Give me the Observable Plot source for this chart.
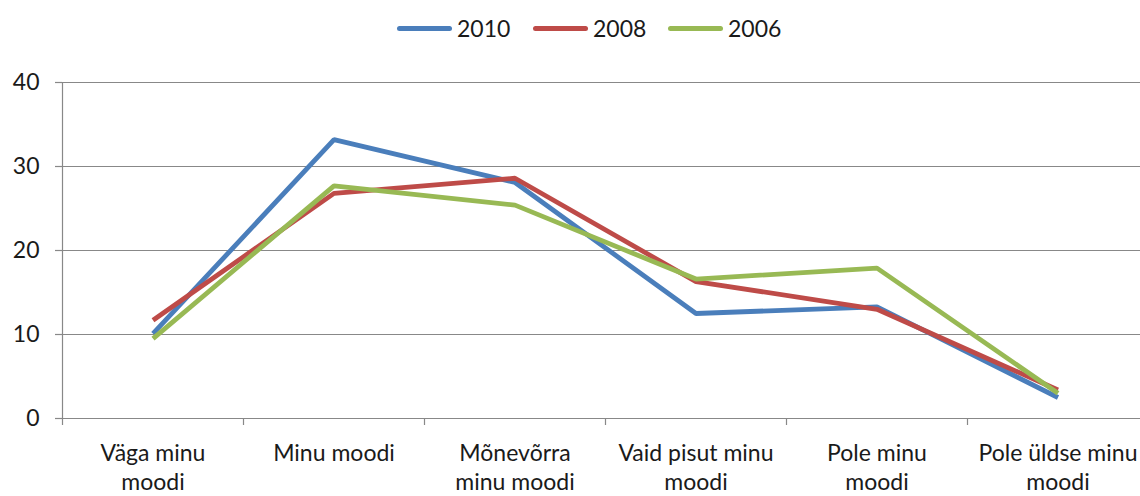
<!DOCTYPE html>
<html>
<head>
<meta charset="utf-8">
<script src="https://cdn.jsdelivr.net/npm/d3@7"></script>
<script src="https://cdn.jsdelivr.net/npm/@observablehq/plot@0.6"></script>
<style>
  html, body { margin: 0; padding: 0; background: #fff; overflow: hidden; width: 1140px; height: 496px; }
  #legend { position: relative; height: 56px; font-family: Lato, "Open Sans", sans-serif; font-size: 23px; color: #1a1a1a; }
  .item { position: absolute; top: 14px; display: flex; align-items: center; height: 28px; }
  .sw { width: 55px; height: 5px; border-radius: 3px; margin-right: 5px; }
  #chart svg { display: block; overflow: visible; max-width: none !important; }
</style>
</head>
<body>
<div id="legend"></div>
<div id="chart"></div>
<script>
const categories = ["Väga minu\nmoodi", "Minu moodi", "Mõnevõrra\nminu moodi", "Vaid pisut minu\nmoodi", "Pole minu\nmoodi", "Pole üldse minu\nmoodi"];
const series = ["2010", "2008", "2006"];
const v2010 = [10.1, 33.2, 28.1, 12.5, 13.3, 2.5];
const v2008 = [11.7, 26.8, 28.6, 16.3, 13.0, 3.4];
const v2006 = [9.5, 27.7, 25.4, 16.6, 17.9, 3.0];
const yTicks = [0, 10, 20, 30, 40];
const colors = ["#4a7ebb", "#be4b48", "#98b954"];

const values = {"2010": v2010, "2008": v2008, "2006": v2006};
const data = series.flatMap(s => values[s].map((v, i) => ({series: s, i: i + 0.5, value: v})));

// legend
const legend = document.getElementById("legend");
const lefts = [397, 533, 668];
series.forEach((s, k) => {
  const it = document.createElement("div");
  it.className = "item";
  it.style.left = lefts[k] + "px";
  it.innerHTML = `<div class="sw" style="background:${colors[k]}"></div><span>${s}</span>`;
  legend.appendChild(it);
});

const chart = Plot.plot({
  width: 1160,
  height: 440,
  marginLeft: 62,
  marginRight: 12,
  marginTop: 26,
  marginBottom: 78,
  style: {fontFamily: "Lato, 'Open Sans', sans-serif", fontSize: "23px", color: "#1a1a1a", background: "#fff", maxWidth: "none"},
  x: {domain: [0, categories.length]},
  y: {domain: [0, 40]},
  color: {domain: series, range: colors},
  marks: [
    Plot.ruleY([10, 20, 30, 40], {stroke: "#888", strokeWidth: 1.2}),
    Plot.ruleY([0], {stroke: "#888", strokeWidth: 1.2}),
    Plot.ruleX([0], {stroke: "#888", strokeWidth: 1.2}),
    Plot.axisY({ticks: yTicks, tickSize: 7, tickPadding: 16, stroke: "#888", strokeWidth: 1.2, label: null, tickFormat: d => String(d)}),
    Plot.axisX({ticks: d3.range(categories.length + 1), tickSize: 7, stroke: "#888", strokeWidth: 1.2, tickFormat: () => "", label: null}),
    Plot.axisX({ticks: d3.range(categories.length).map(i => i + 0.5), tickSize: 0, tickPadding: 22, lineHeight: 1.25, tickFormat: d => categories[Math.floor(d)], label: null}),
    Plot.line(data, {x: "i", y: "value", z: "series", stroke: "series", strokeWidth: 4.8, strokeLinejoin: "miter", strokeLinecap: "butt"})
  ]
});
document.getElementById("chart").appendChild(chart);
</script>
</body>
</html>
